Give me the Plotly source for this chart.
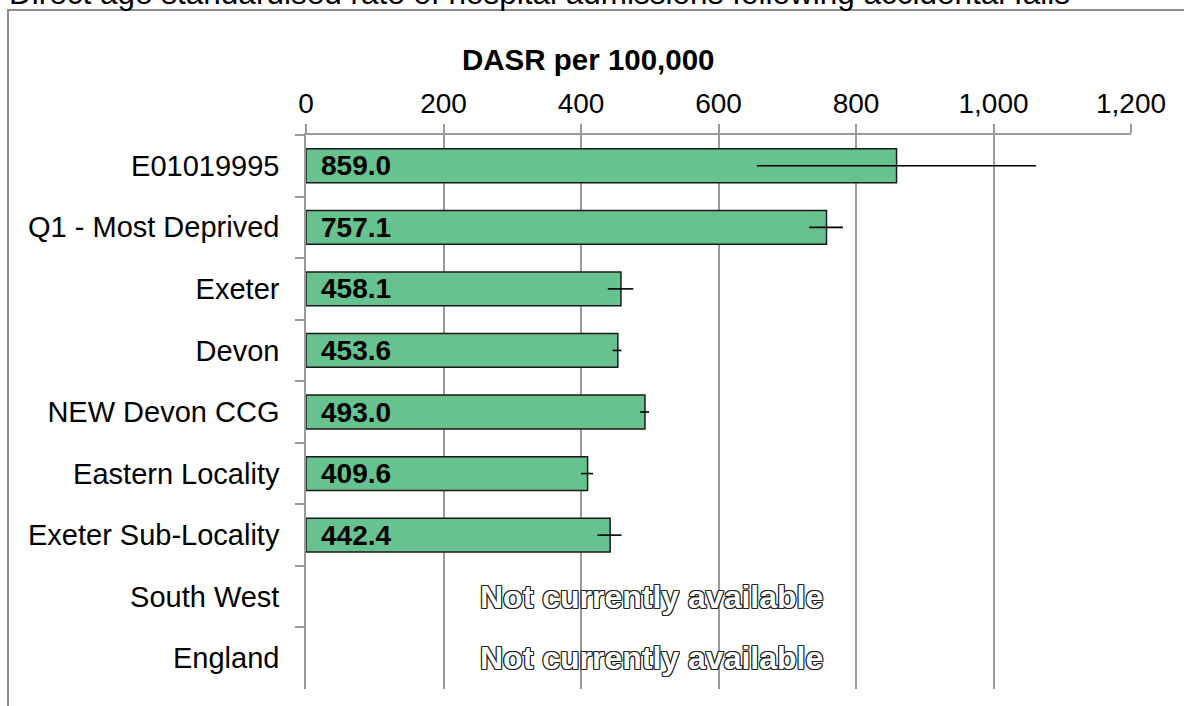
import plotly.graph_objects as go

categories = ["E01019995", "Q1 - Most Deprived", "Exeter", "Devon", "NEW Devon CCG",
              "Eastern Locality", "Exeter Sub-Locality", "South West", "England"]
values = [859.0, 757.1, 458.1, 453.6, 493.0, 409.6, 442.4, None, None]
ci_low = [656, 732, 439, 446, 486, 400, 424, None, None]
ci_high = [1062, 781, 476, 459, 499, 417.5, 459, None, None]
unavailable_label = "Not currently available"
unavailable_pos = 503
title_text = "Direct age standardised rate of hospital admissions following accidental falls"
x_title = "DASR per 100,000"

FONT = "Liberation Sans, Arial, sans-serif"
GRID = "#9a9a9a"

err_plus = [(h - v) if v is not None else None for v, h in zip(values, ci_high)]
err_minus = [(v - l) if v is not None else None for v, l in zip(values, ci_low)]

fig = go.Figure()
fig.add_trace(go.Bar(
    y=categories, x=values, orientation="h",
    marker=dict(color="#66c28e", line=dict(color="#1a1a1a", width=1.5)),
    error_x=dict(type="data", symmetric=False, array=err_plus, arrayminus=err_minus,
                 color="black", thickness=1.6, width=0),
    hoverinfo="x+y", showlegend=False,
))

OUTLINE = ("1px 0px 0px #222, -1px 0px 0px #222, 0px 1px 0px #222, 0px -1px 0px #222, "
           "1px 1px 0px #222, -1px -1px 0px #222, 1px -1px 0px #222, -1px 1px 0px #222")

annotations = []
for c, v in zip(categories, values):
    if v is not None:
        annotations.append(dict(x=0, y=c, xref="x", yref="y", text=f"{v:.1f}",
                                showarrow=False, xanchor="left", xshift=13,
                                font=dict(family=FONT, size=28, color="black", weight="bold")))
    else:
        annotations.append(dict(x=unavailable_pos, y=c, xref="x", yref="y", text=unavailable_label,
                                showarrow=False, xanchor="center",
                                font=dict(family=FONT, size=32, color="white", weight="bold",
                                          shadow=OUTLINE)))

# chart title (cut off at the top, as in the reference)
annotations.append(dict(x=-0.362, y=1.221, xref="paper", yref="paper", text=title_text,
                        showarrow=False, xanchor="left", yanchor="bottom",
                        font=dict(family=FONT, size=31.5, color="black")))
# axis title
annotations.append(dict(x=0.343, y=1.1354, xref="paper", yref="paper", text=f"<b>{x_title}</b>",
                        showarrow=False, xanchor="center", yanchor="middle",
                        font=dict(family=FONT, size=29.5, color="black")))

fig.update_layout(
    width=1184, height=706,
    margin=dict(l=306, r=53, t=135, b=17),
    paper_bgcolor="white", plot_bgcolor="white",
    bargap=0.45,
    font=dict(family=FONT, size=28, color="black"),
    annotations=annotations,
    shapes=[dict(type="rect", xref="paper", yref="paper", x0=-0.3612, x1=2, y0=-1, y1=1.2256,
                 line=dict(color="#8c8c8c", width=2), layer="below")],
    xaxis=dict(side="top", range=[0, 1200], dtick=200, tickformat=",",
               showgrid=True, gridcolor=GRID, gridwidth=1.5,
               showline=True, linecolor=GRID, linewidth=1.5,
               ticks="outside", ticklen=9, tickcolor=GRID, tickwidth=1.5,
               zeroline=False,
               tickfont=dict(size=28)),
    yaxis=dict(type="category", autorange="reversed",
               showline=True, linecolor=GRID, linewidth=1.5,
               ticks="outside", ticklen=9, tickcolor=GRID, tickwidth=1.5,
               tickson="boundaries", showgrid=False,
               ticklabelstandoff=19,
               tickfont=dict(size=29)),
)

fig.write_html("out.html", config={"displayModeBar": False},
               post_script="document.body.style.margin='0';")
